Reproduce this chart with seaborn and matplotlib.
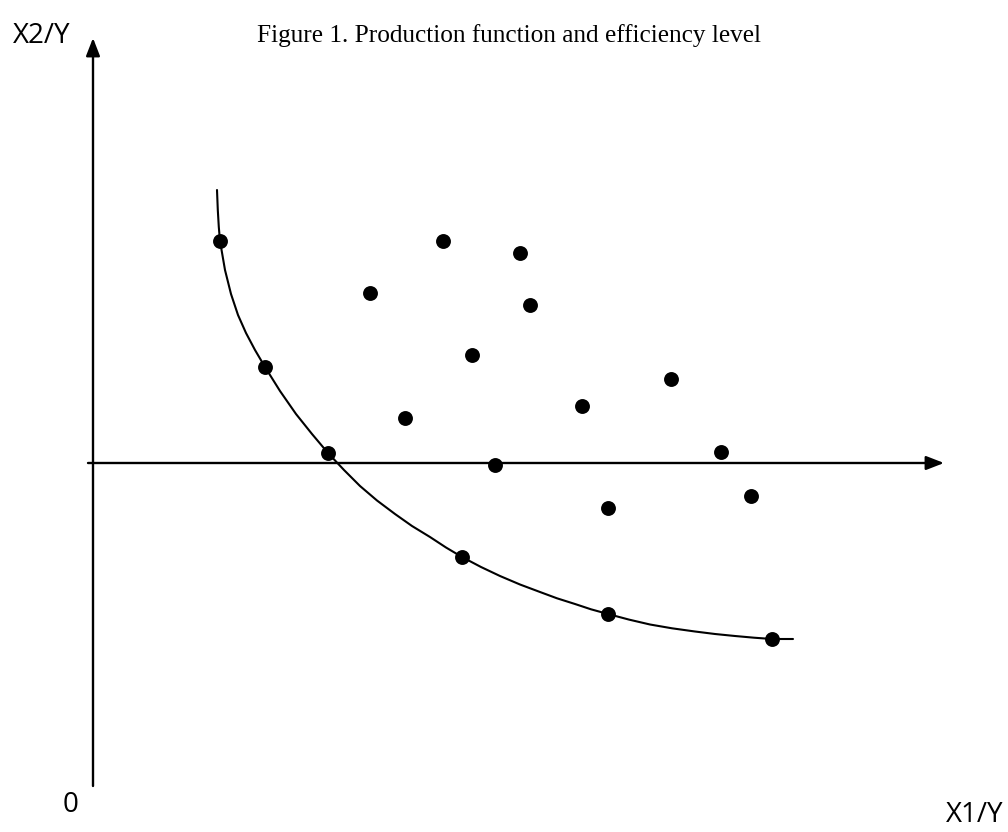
import numpy as np
import pandas as pd
import matplotlib
matplotlib.use('Agg')
import matplotlib.pyplot as plt
import seaborn as sns

# 坐标按参考图的像素读取 (y 向下)
frontier_x = [220, 265, 328, 462, 608, 772]
frontier_y = [241, 367, 453, 557, 614, 639]

inner_x = [370, 443, 520, 530, 472, 405, 582, 671, 495, 721, 608, 751]
inner_y = [293, 241, 253, 305, 355, 418, 406, 379, 465, 452, 508, 496]

# 生产前沿曲线上读取的点
curve_x = [217, 217.8, 218.8, 220, 225, 231, 238, 246, 255, 265, 280, 296, 312, 328,
           344, 360, 377, 395, 412, 430, 446, 462, 481, 500, 520, 540, 557, 575, 591, 608,
           629, 650, 672, 695, 715, 735, 754, 772, 793]
curve_y = [190, 210, 227, 241, 270, 294, 315, 333, 350, 367, 391, 414, 434, 453,
           470, 486, 500.5, 514, 526, 537, 547.5, 557, 567, 576, 584.5, 592, 598.3, 604, 609.3, 614,
           619.6, 624.5, 628.3, 631.5, 634, 636, 637.7, 639, 639]

points = pd.DataFrame({'x': frontier_x + inner_x, 'y': frontier_y + inner_y})
curve = pd.DataFrame({'x': curve_x, 'y': curve_y})

sns.set_theme(style='white')

fig = plt.figure(figsize=(10.08, 8.32), dpi=100)
ax = fig.add_axes([0, 0, 1, 1])
ax.set_xlim(0, 1008)
ax.set_ylim(832, 0)
ax.axis('off')

# 坐标轴（带箭头）
ax.annotate('', xy=(93, 38), xytext=(93, 786),
            arrowprops=dict(arrowstyle='-|>,head_length=0.9,head_width=0.35', color='black', lw=1.7,
                            shrinkA=0, shrinkB=0))
ax.annotate('', xy=(944, 463), xytext=(88, 463),
            arrowprops=dict(arrowstyle='-|>,head_length=0.9,head_width=0.35', color='black', lw=1.7,
                            shrinkA=0, shrinkB=0))

sns.lineplot(data=curve, x='x', y='y', sort=False, color='black', lw=1.5, ax=ax, estimator=None,
             solid_joinstyle='round')
sns.scatterplot(data=points, x='x', y='y', color='black', s=115, marker='o', edgecolor='black',
                linewidth=0, ax=ax, zorder=5)

ax.text(509, 36, 'Figure 1. Production function and efficiency level', family='Liberation Serif',
        fontsize=18.2, ha='center', va='center', color='black')
ax.text(42, 36, 'X2/Y', family='Open Sans', fontsize=20, ha='center', va='center', color='black')
ax.text(71, 805, '0', family='Open Sans', fontsize=20, ha='center', va='center', color='black')
ax.text(975, 815, 'X1/Y', family='Open Sans', fontsize=20, ha='center', va='center', color='black')

fig.savefig('out.png', dpi=100)
